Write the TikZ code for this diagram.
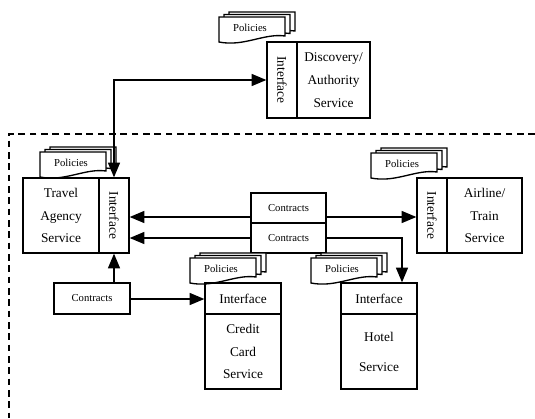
\documentclass[tikz,border=0pt]{standalone}
\usepackage{fontspec}
\setmainfont{Liberation Serif}
\usepackage{graphicx}
\usetikzlibrary{arrows.meta}

\tikzset{every picture/.style={line width=1pt}}
\tikzset{
  svcbox/.style={draw, inner sep=0pt, align=center, font=\fontsize{10}{17}\selectfont},
  smallbox/.style={draw, inner sep=0pt, font=\fontsize{8}{10}\selectfont},
  docline/.style={draw, fill=white, line width=1pt},
  doctext/.style={inner sep=0pt, font=\fontsize{8}{10}\selectfont},
  flow/.style={-{Triangle[length=11pt,width=9pt]}},
  twoflow/.style={{Triangle[length=11pt,width=9pt]}-{Triangle[length=11pt,width=9pt]}},
}

% stack of policy documents, front sheet top left at (#2,#3)
\newcommand{\policystack}[3]{%
  \foreach \d in {10,5,0}{
    \draw[docline, shift={({#2+\d},{#3-\d/2})}] (0,0) -- (66,0) -- (66,19) .. controls (45,16) and (25,30) .. (0,25) -- cycle;
  }
  \node[doctext] (#1) at ({#2+31},{#3+11}) {Policies};
}

\begin{document}
\begin{tikzpicture}[x=0.75pt,y=0.75pt,yscale=-1,xscale=1]
\useasboundingbox (0,0) rectangle (535,418);

% Boundary
\draw[dash pattern=on 5pt off 3.5pt] (535,134) -- (9,134) -- (9,418);

% Discovery / Authority
\policystack{pol_disc}{219}{17}
\node[svcbox, minimum width=22.5pt, minimum height=57pt] (disc_if) at (282,80) {\rotatebox{-90}{Interface}};
\node[svcbox, minimum width=54.75pt, minimum height=57pt] (disc) at (333.5,80) {Discovery/\\Authority\\Service};

% Travel Agency
\policystack{pol_travel}{40}{152}
\node[svcbox, minimum width=57pt, minimum height=56.25pt] (travel) at (61,215.5) {Travel\\Agency\\Service};
\node[svcbox, minimum width=22.5pt, minimum height=56.25pt] (travel_if) at (114,215.5) {\rotatebox{-90}{Interface}};

% Airline / Train
\policystack{pol_air}{371}{153}
\node[svcbox, minimum width=22.5pt, minimum height=56.25pt] (air_if) at (432,215.5) {\rotatebox{-90}{Interface}};
\node[svcbox, minimum width=56.25pt, minimum height=56.25pt] (air) at (484.5,215.5) {Airline/\\Train\\Service};

% Contracts
\node[smallbox, minimum width=56.25pt, minimum height=22.5pt] (con1) at (288.5,208) {Contracts};
\node[smallbox, minimum width=56.25pt, minimum height=22.5pt] (con2) at (288.5,238) {Contracts};
\node[smallbox, minimum width=57pt, minimum height=23.25pt] (con3) at (92,298.5) {Contracts};

% Credit Card
\policystack{pol_credit}{190}{258}
\node[svcbox, minimum width=57pt, minimum height=23.25pt] (credit_if) at (243,298.5) {Interface};
\node[svcbox, minimum width=57pt, minimum height=56.25pt] (credit) at (243,351.5) {Credit\\Card\\Service};

% Hotel
\policystack{pol_hotel}{311}{258}
\node[svcbox, minimum width=57pt, minimum height=23.25pt] (hotel_if) at (379,298.5) {Interface};
\node[svcbox, minimum width=57pt, minimum height=56.25pt, font=\fontsize{10}{22.5}\selectfont] (hotel) at (379,351.5) {Hotel\\Service};

% Connection
\draw[twoflow] (travel_if.north) |- (disc_if.west);
% Connection
\coordinate (c1_out) at ([yshift=1.125pt]con1.west |- travel_if.east);
\draw[flow] (c1_out) -- (c1_out -| travel_if.east);
\coordinate (c1_in) at ([yshift=1.125pt]con1.east |- air_if.west);
\draw[flow] (c1_in) -- (c1_in -| air_if.west);
% Connection
\draw[flow] (con2.west) -- (con2.west -| travel_if.east);
\coordinate (hotel_in) at ([xshift=17.25pt]hotel_if.north);
\draw[flow] (con2.east) -| (hotel_in);
% Connection
\draw[flow] (con3.north -| travel_if.south) -- (travel_if.south);
\coordinate (c3_out) at ([yshift=0.375pt]con3.east);
\draw[flow] (c3_out) -- (c3_out -| credit_if.west);

\end{tikzpicture}
\end{document}
